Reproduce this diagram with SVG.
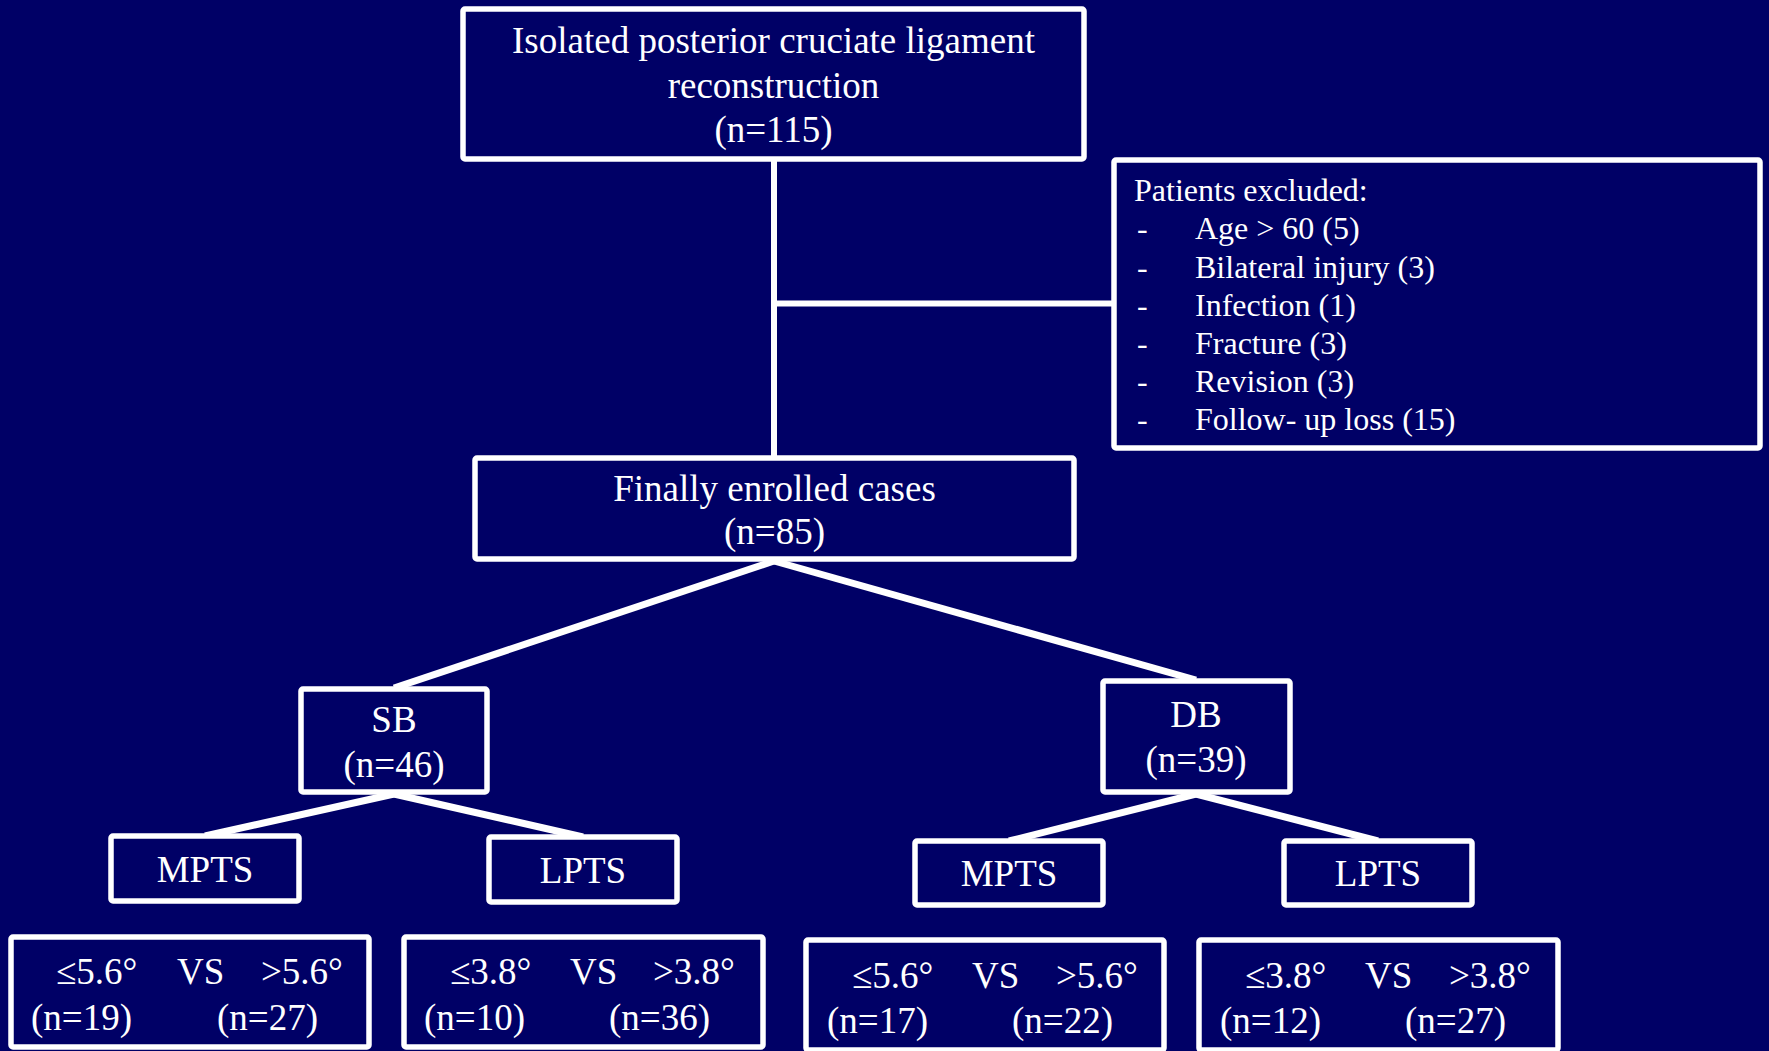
<svg xmlns="http://www.w3.org/2000/svg" width="1769" height="1051" viewBox="0 0 1769 1051">
<style>
.box{fill:#000066;stroke:#ffffff;stroke-width:5.5}
.t{font-family:"Liberation Serif","Times New Roman",serif;font-size:37px;fill:#ffffff}
.c{text-anchor:middle}
.s{font-size:32px}
.ln{stroke:#ffffff;stroke-width:6;fill:none}
.dg{stroke:#ffffff;stroke-width:7;fill:none}
</style>
<rect width="1769" height="1051" fill="#000066"/>
<g id="connectors">
<line class="ln" x1="774" y1="160" x2="774" y2="458"/>
<line class="ln" x1="774" y1="303.5" x2="1114" y2="303.5"/>
<line class="dg" x1="774" y1="561" x2="394" y2="688"/>
<line class="dg" x1="774" y1="561" x2="1196" y2="680"/>
<line class="dg" x1="394" y1="794" x2="205" y2="836"/>
<line class="dg" x1="394" y1="794" x2="583" y2="837"/>
<line class="dg" x1="1196" y1="794" x2="1009" y2="841"/>
<line class="dg" x1="1196" y1="794" x2="1378" y2="841"/>
</g>
<g id="top">
<rect class="box" x="463" y="9" width="621" height="150" rx="2"/>
<text class="t c" x="773.5" y="53">Isolated posterior cruciate ligament</text>
<text class="t c" x="773.5" y="98">reconstruction</text>
<text class="t c" x="773.5" y="142">(n=115)</text>
</g>
<g id="excluded">
<rect class="box" x="1114" y="160" width="646" height="288" rx="2"/>
<text class="t s" x="1134" y="201">Patients excluded:</text>
<text class="t s" x="1137" y="239">-</text><text class="t s" x="1195" y="239">Age &gt; 60 (5)</text>
<text class="t s" x="1137" y="278">-</text><text class="t s" x="1195" y="278">Bilateral injury (3)</text>
<text class="t s" x="1137" y="316">-</text><text class="t s" x="1195" y="316">Infection (1)</text>
<text class="t s" x="1137" y="354">-</text><text class="t s" x="1195" y="354">Fracture (3)</text>
<text class="t s" x="1137" y="392">-</text><text class="t s" x="1195" y="392">Revision (3)</text>
<text class="t s" x="1137" y="430">-</text><text class="t s" x="1195" y="430">Follow- up loss (15)</text>
</g>
<g id="enrolled">
<rect class="box" x="475" y="458" width="599" height="101" rx="2"/>
<text class="t c" x="774.5" y="501">Finally enrolled cases</text>
<text class="t c" x="774.5" y="544">(n=85)</text>
</g>
<g id="sb">
<rect class="box" x="301" y="689" width="186" height="103" rx="2"/>
<text class="t c" x="394" y="732">SB</text>
<text class="t c" x="394" y="777">(n=46)</text>
</g>
<g id="db">
<rect class="box" x="1103" y="681" width="187" height="111" rx="2"/>
<text class="t c" x="1196" y="727">DB</text>
<text class="t c" x="1196" y="772">(n=39)</text>
</g>
<g id="sb-mpts">
<rect class="box" x="111" y="836" width="188" height="65" rx="2"/>
<text class="t c" x="205" y="882">MPTS</text>
</g>
<g id="sb-lpts">
<rect class="box" x="489" y="837" width="188" height="65" rx="2"/>
<text class="t c" x="583" y="883">LPTS</text>
</g>
<g id="db-mpts">
<rect class="box" x="915" y="841" width="188" height="64" rx="2"/>
<text class="t c" x="1009" y="886">MPTS</text>
</g>
<g id="db-lpts">
<rect class="box" x="1284" y="841" width="188" height="64" rx="2"/>
<text class="t c" x="1378" y="886">LPTS</text>
</g>
<g id="sb-mpts-split">
<rect class="box" x="11" y="937" width="358" height="110" rx="2"/>
<text class="t" x="56" y="984">≤5.6°</text>
<text class="t" x="177" y="984">VS</text>
<text class="t" x="261" y="984">&gt;5.6°</text>
<text class="t" x="31" y="1030">(n=19)</text>
<text class="t" x="217" y="1030">(n=27)</text>
</g>
<g id="sb-lpts-split">
<rect class="box" x="404" y="937" width="359" height="110" rx="2"/>
<text class="t" x="450" y="984">≤3.8°</text>
<text class="t" x="570" y="984">VS</text>
<text class="t" x="653" y="984">&gt;3.8°</text>
<text class="t" x="424" y="1030">(n=10)</text>
<text class="t" x="609" y="1030">(n=36)</text>
</g>
<g id="db-mpts-split">
<rect class="box" x="806" y="940" width="358" height="110" rx="2"/>
<text class="t" x="852" y="988">≤5.6°</text>
<text class="t" x="972" y="988">VS</text>
<text class="t" x="1056" y="988">&gt;5.6°</text>
<text class="t" x="827" y="1033">(n=17)</text>
<text class="t" x="1012" y="1033">(n=22)</text>
</g>
<g id="db-lpts-split">
<rect class="box" x="1199" y="940" width="359" height="110" rx="2"/>
<text class="t" x="1245" y="988">≤3.8°</text>
<text class="t" x="1365" y="988">VS</text>
<text class="t" x="1449" y="988">&gt;3.8°</text>
<text class="t" x="1220" y="1033">(n=12)</text>
<text class="t" x="1405" y="1033">(n=27)</text>
</g>
</svg>
